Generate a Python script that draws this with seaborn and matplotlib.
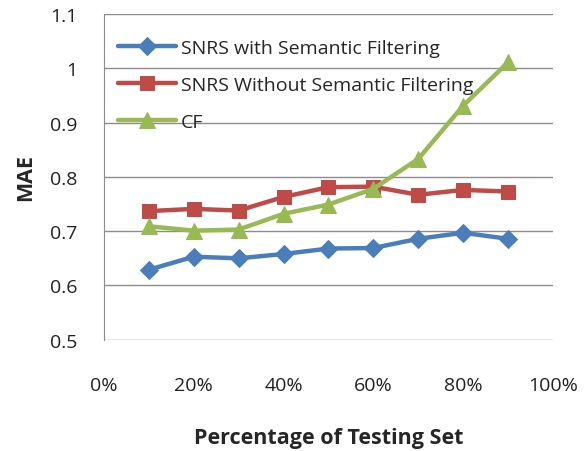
import pandas as pd
import seaborn as sns
import matplotlib.pyplot as plt
from matplotlib.ticker import PercentFormatter

# data
pct = [10, 20, 30, 40, 50, 60, 70, 80, 90]
with_filter = [0.629, 0.653, 0.650, 0.658, 0.668, 0.669, 0.686, 0.697, 0.686]
without_filter = [0.737, 0.741, 0.738, 0.763, 0.781, 0.782, 0.767, 0.776, 0.773]
cf = [0.709, 0.701, 0.703, 0.732, 0.749, 0.778, 0.833, 0.931, 1.011]

labels = ["SNRS with Semantic Filtering", "SNRS Without Semantic Filtering", "CF"]
colors = ["#4A7EBB", "#BE4B48", "#98B954"]
markers = ["D", "s", "^"]
msizes = [9, 10, 11.5]

sns.set_style("white")
plt.rcParams["font.family"] = ["Open Sans", "DejaVu Sans"]

fig = plt.figure(figsize=(5.87, 4.52), dpi=100)
ax = fig.add_axes([0.177, 0.246, 0.765, 0.721])

for vals, lab, col, mk, ms in zip([with_filter, without_filter, cf], labels, colors, markers, msizes):
    df = pd.DataFrame({"pct": pct, "mae": vals})
    sns.lineplot(data=df, x="pct", y="mae", ax=ax, color=col, linewidth=3.2,
                 marker=mk, markersize=ms, markeredgecolor=col, label=lab)

ax.set_xlim(0, 100)
ax.set_ylim(0.5, 1.1)
ax.set_xticks(range(0, 101, 20))
ax.xaxis.set_major_formatter(PercentFormatter(decimals=0))
ax.set_yticks([0.5, 0.6, 0.7, 0.8, 0.9, 1.0, 1.1])
ax.set_yticklabels(["0.5", "0.6", "0.7", "0.8", "0.9", "1", "1.1"])
ax.yaxis.grid(True, color="#8c8c8c", linewidth=1)
ax.set_axisbelow(True)
for s in ["top", "right", "bottom"]:
    ax.spines[s].set_visible(False)
ax.spines["left"].set_color("#8c8c8c")
ax.tick_params(axis="x", length=0, pad=26, labelsize=14, colors="#222222")
ax.tick_params(axis="y", length=0, pad=19, labelsize=14, colors="#222222")

ax.set_xlabel("Percentage of Testing Set", fontsize=15.5, fontweight="bold", labelpad=24)
ax.set_ylabel("MAE", fontsize=15.5, fontweight="bold", labelpad=10)

ax.legend(loc="upper left", bbox_to_anchor=(0.005, 0.96), frameon=False, fontsize=14,
          handlelength=3.0, handletextpad=0.25, labelspacing=0.98, borderaxespad=0.3,
          borderpad=0.3)

fig.savefig("out.png", dpi=100)
